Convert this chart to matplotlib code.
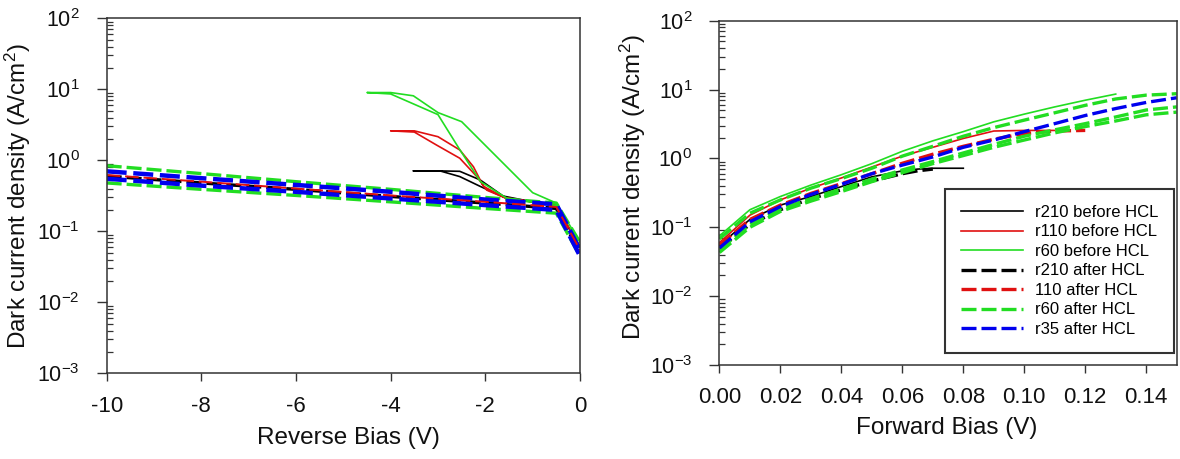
import matplotlib
matplotlib.use("Agg")
import matplotlib.pyplot as plt
from matplotlib.ticker import LogLocator, FixedLocator, FormatStrFormatter, NullFormatter

plt.rcParams['font.family'] = ['Liberation Sans', 'DejaVu Sans']
plt.rcParams['mathtext.default'] = 'regular'
plt.rcParams['axes.unicode_minus'] = False

# ---------------- reverse bias sweeps (|J| vs V) ----------------
# "after HCL" sweeps: each sample measured out and back (two branches)
rev_v = [-10, -8, -6, -4, -2, -0.5, 0]
r210_after_rev = [0.60, 0.48, 0.39, 0.31, 0.25, 0.21, 0.050]
r110_after_rev = [0.62, 0.50, 0.40, 0.32, 0.26, 0.22, 0.055]
r60_after_rev_a = [0.84, 0.65, 0.50, 0.39, 0.30, 0.25, 0.070]
r60_after_rev_b = [0.48, 0.39, 0.32, 0.26, 0.21, 0.18, 0.045]
r35_after_rev_a = [0.70, 0.56, 0.45, 0.36, 0.28, 0.24, 0.055]
r35_after_rev_b = [0.55, 0.44, 0.36, 0.29, 0.234, 0.20, 0.045]

# "before HCL" sweeps (hysteresis loops)
r210_before_rev_v = [0, -0.5, -1.0, -1.55, -2.11, -2.54, -3.0, -3.52,
                     -2.96, -2.54, -2.11, -1.69, -1.0, -0.5]
r210_before_rev_j = [0.06, 0.23, 0.26, 0.29, 0.53, 0.70, 0.71, 0.71,
                     0.71, 0.59, 0.43, 0.32, 0.26, 0.23]
r110_before_rev_v = [0, -0.5, -1.0, -1.55, -1.97, -2.18, -2.54, -3.03, -3.5, -4.0,
                     -3.5, -3.0, -2.54, -2.25, -2.04, -1.6, -1.0, -0.5]
r110_before_rev_j = [0.06, 0.23, 0.26, 0.29, 0.38, 0.59, 1.07, 1.64, 2.5, 2.6,
                     2.6, 2.15, 1.40, 0.81, 0.43, 0.30, 0.26, 0.23]
r60_before_rev_v = [0, -0.5, -1.0, -2.5, -3.0, -3.52, -4.0, -4.5,
                    -4.0, -3.0, -2.55, -2.1, -1.5, -1.0, -0.5]
r60_before_rev_j = [0.07, 0.25, 0.35, 3.5, 4.7, 8.1, 9.0, 9.0,
                    8.6, 4.4, 1.45, 0.50, 0.28, 0.26, 0.23]

# ---------------- forward bias sweeps ----------------
fwd_v = [0.00, 0.01, 0.02, 0.03, 0.04, 0.05, 0.06, 0.07, 0.08,
         0.09, 0.10, 0.11, 0.12, 0.13, 0.14, 0.15]
r210_before_fwd_v = [0.00, 0.01, 0.02, 0.03, 0.04, 0.05, 0.06, 0.065, 0.07, 0.08]
r210_before_fwd_j = [0.055, 0.13, 0.21, 0.28, 0.39, 0.54, 0.66, 0.70, 0.72, 0.72]
r110_before_fwd_v = fwd_v[:12]
r110_before_fwd_j = [0.060, 0.15, 0.25, 0.37, 0.52, 0.75, 1.08, 1.45, 1.95, 2.5, 2.55, 2.55]
r60_before_fwd_v = fwd_v[:14]
r60_before_fwd_j = [0.075, 0.18, 0.28, 0.41, 0.58, 0.84, 1.27, 1.8, 2.45, 3.4, 4.4, 5.6, 7.0, 8.6]

r210_after_fwd_v = [0.00, 0.01, 0.02, 0.03, 0.04, 0.05, 0.06, 0.065, 0.07]
r210_after_fwd_j = [0.050, 0.11, 0.18, 0.26, 0.35, 0.47, 0.60, 0.66, 0.70]
r110_after_fwd_v = fwd_v[:13]
r110_after_fwd_j = [0.055, 0.13, 0.21, 0.31, 0.43, 0.60, 0.85, 1.15, 1.5, 1.9, 2.3, 2.5, 2.55]
r60_after_fwd_a = [0.068, 0.16, 0.25, 0.37, 0.51, 0.72, 1.08, 1.5, 2.1, 2.8, 3.6, 4.6, 5.9, 7.3, 8.3, 8.7]
r60_after_fwd_b = [0.047, 0.11, 0.185, 0.26, 0.36, 0.50, 0.68, 0.90, 1.2, 1.6, 2.1, 2.6, 3.2, 4.0, 5.05, 5.6]
r60_after_fwd_c = [0.043, 0.10, 0.17, 0.24, 0.33, 0.46, 0.62, 0.84, 1.1, 1.45, 1.85, 2.35, 2.9, 3.5, 4.3, 4.7]
r35_after_fwd_j = [0.050, 0.12, 0.20, 0.30, 0.42, 0.60, 0.80, 1.05, 1.45, 1.85, 2.45, 3.2, 4.2, 5.3, 6.5, 7.6]

legend_labels = ['r210 before HCL', 'r110 before HCL', 'r60 before HCL',
                 'r210 after HCL', '110 after HCL', 'r60 after HCL', 'r35 after HCL']

BLACK, RED, GREEN, BLUE = '#000000', '#e01010', '#22dd22', '#0000ee'
SOLID_LW = 1.2
DASH_LW = 2.4
DASHES = (4.5, 1.5)

fig = plt.figure(figsize=(11.8, 4.59), dpi=100)
ax1 = fig.add_axes([0.0904, 0.1867, 0.4011, 0.7734])
ax2 = fig.add_axes([0.6097, 0.2048, 0.3875, 0.7501])


def dashed(ax, x, y, color, label=None, lw=DASH_LW):
    ax.plot(x, y, color=color, lw=lw, dashes=DASHES, label=label)


def solid(ax, x, y, color, label=None):
    ax.plot(x, y, color=color, lw=SOLID_LW, label=label)


# reverse bias panel
solid(ax1, r210_before_rev_v, r210_before_rev_j, BLACK)
solid(ax1, r110_before_rev_v, r110_before_rev_j, RED)
solid(ax1, r60_before_rev_v, r60_before_rev_j, GREEN)
dashed(ax1, rev_v, r210_after_rev, BLACK)
dashed(ax1, rev_v, r60_after_rev_a, GREEN)
dashed(ax1, rev_v, r60_after_rev_b, GREEN)
dashed(ax1, rev_v, r35_after_rev_a, BLUE, lw=3.2)
dashed(ax1, rev_v, r35_after_rev_b, BLUE, lw=3.2)
ax1.plot(rev_v, r110_after_rev, color=RED, lw=1.4, dashes=(7, 2.5))

# forward bias panel
solid(ax2, r210_before_fwd_v, r210_before_fwd_j, BLACK, legend_labels[0])
solid(ax2, r110_before_fwd_v, r110_before_fwd_j, RED, legend_labels[1])
solid(ax2, r60_before_fwd_v, r60_before_fwd_j, GREEN, legend_labels[2])
dashed(ax2, r210_after_fwd_v, r210_after_fwd_j, BLACK, legend_labels[3])
dashed(ax2, r110_after_fwd_v, r110_after_fwd_j, RED, legend_labels[4])
dashed(ax2, fwd_v, r60_after_fwd_a, GREEN, legend_labels[5])
dashed(ax2, fwd_v, r60_after_fwd_b, GREEN)
dashed(ax2, fwd_v, r60_after_fwd_c, GREEN)
dashed(ax2, fwd_v, r35_after_fwd_j, BLUE, legend_labels[6])

ylabel = 'Dark current density (A/cm$^2$)'
for ax in (ax1, ax2):
    ax.set_yscale('log')
    ax.set_ylim(1e-3, 1e2)
    ax.yaxis.set_major_locator(LogLocator(base=10, numticks=10))
    ax.yaxis.set_minor_locator(LogLocator(base=10, subs=range(2, 10), numticks=20))
    ax.yaxis.set_minor_formatter(NullFormatter())
    ax.tick_params(axis='y', which='major', direction='out', length=7.5, width=1.0,
                   labelsize=15.5, pad=12, colors='#333333', labelcolor='#111111')
    ax.tick_params(axis='y', which='minor', direction='in', length=4.5, width=0.9,
                   colors='#333333')
    ax.tick_params(axis='x', which='major', direction='out', length=6, width=1.0,
                   labelsize=16, pad=10, colors='#333333', labelcolor='#111111')
    ax.tick_params(top=False, right=False, which='both')
    for s in ax.spines.values():
        s.set_color('#333333')
        s.set_linewidth(1.1)
    ax.set_ylabel(ylabel, fontsize=17.5, color='#111111')

ax1.set_xlim(-10, 0)
ax1.xaxis.set_major_locator(FixedLocator([-10, -8, -6, -4, -2, 0]))
ax1.xaxis.set_major_formatter(FormatStrFormatter('%d'))
ax1.set_xlabel('Reverse Bias (V)', fontsize=17.5, color='#111111')
ax1.xaxis.set_label_coords(0.51, -0.15)
ax1.yaxis.set_label_coords(-0.155, 0.5)

ax2.set_xlim(0, 0.15)
ax2.xaxis.set_major_locator(FixedLocator([0.0, 0.02, 0.04, 0.06, 0.08, 0.10, 0.12, 0.14]))
ax2.xaxis.set_major_formatter(FormatStrFormatter('%.2f'))
ax2.set_xlabel('Forward Bias (V)', fontsize=17.5, color='#111111')
ax2.xaxis.set_label_coords(0.4966, -0.152)
ax2.yaxis.set_label_coords(-0.156, 0.518)

leg = ax2.legend(loc='upper left', bbox_to_anchor=(0.493, 0.511), borderaxespad=0,
                 fontsize=12, frameon=True, fancybox=False, edgecolor='#000000',
                 handlelength=3.75, handletextpad=0.7, borderpad=0.95,
                 labelspacing=0.27)
leg.get_frame().set_linewidth(1.5)

fig.savefig('out.png', dpi=100)
